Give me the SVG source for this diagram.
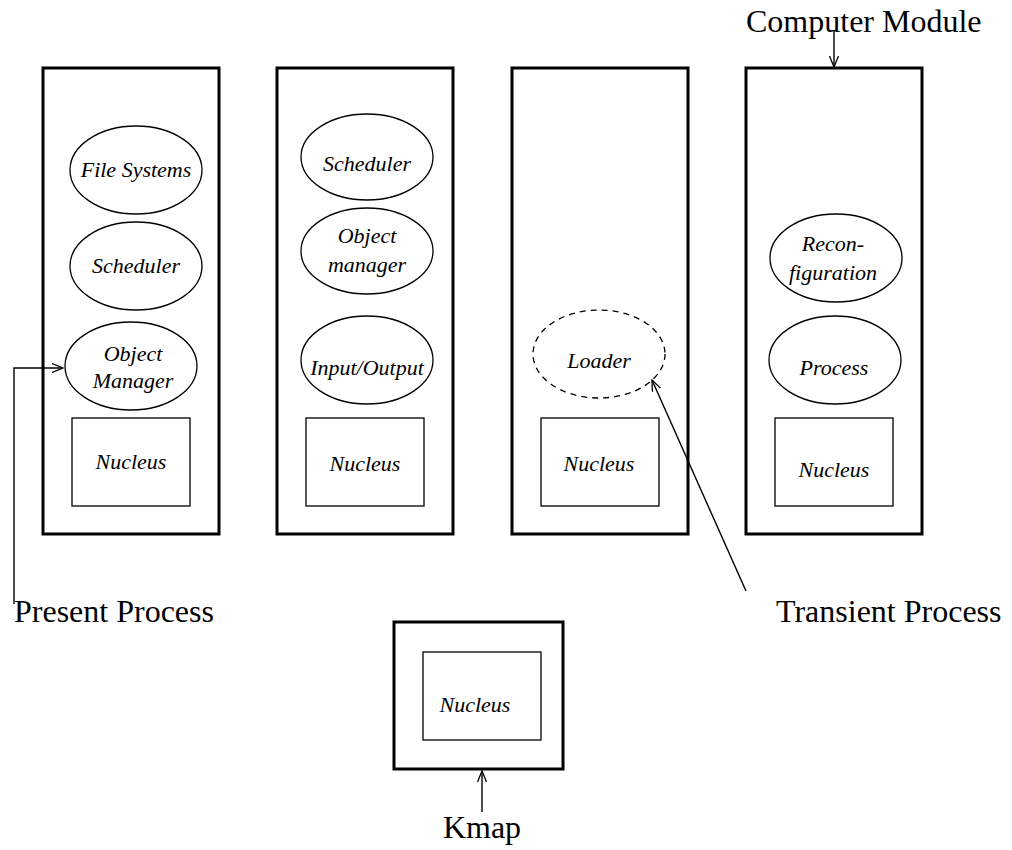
<svg xmlns="http://www.w3.org/2000/svg" width="1012" height="850" viewBox="0 0 1012 850">
  <style>
    .module { fill: none; stroke: #000; stroke-width: 3; }
    .proc { fill: none; stroke: #000; stroke-width: 1.3; }
    .transient { fill: none; stroke: #000; stroke-width: 1.3; stroke-dasharray: 6 5; }
    .nucleus { fill: none; stroke: #000; stroke-width: 1.3; }
    .lbl { font-family: "Liberation Serif", "Times New Roman", serif; font-style: italic; font-size: 22px; fill: #000; text-anchor: middle; }
    .cap { font-family: "Liberation Serif", "Times New Roman", serif; font-size: 32px; fill: #000; }
    .conn { fill: none; stroke: #000; stroke-width: 1.4; }
  </style>
  <defs>
    <marker id="open" viewBox="0 0 12 10" refX="11" refY="5" markerWidth="12" markerHeight="10" markerUnits="userSpaceOnUse" orient="auto">
      <path d="M0,0.5 L11,5 L0,9.5" fill="none" stroke="#000" stroke-width="1.3"/>
    </marker>
  </defs>
  <rect width="1012" height="850" fill="#fff"/>

  <!-- module 1 -->
  <g id="module1">
    <rect class="module" x="43" y="68" width="176" height="466"/>
    <ellipse class="proc" cx="136" cy="170" rx="66" ry="44"/>
    <text class="lbl" x="136" y="177">File Systems</text>
    <ellipse class="proc" cx="136" cy="266" rx="66" ry="44"/>
    <text class="lbl" x="136" y="273">Scheduler</text>
    <ellipse class="proc" cx="131" cy="366" rx="66" ry="44"/>
    <text class="lbl" x="133" y="361">Object</text>
    <text class="lbl" x="133" y="388">Manager</text>
    <rect class="nucleus" x="72" y="418" width="118" height="88"/>
    <text class="lbl" x="131" y="469">Nucleus</text>
  </g>

  <!-- module 2 -->
  <g id="module2">
    <rect class="module" x="277" y="68" width="176" height="466"/>
    <ellipse class="proc" cx="367" cy="157" rx="66" ry="43"/>
    <text class="lbl" x="367" y="171">Scheduler</text>
    <ellipse class="proc" cx="367" cy="251" rx="66" ry="43"/>
    <text class="lbl" x="367" y="243">Object</text>
    <text class="lbl" x="367" y="272">manager</text>
    <ellipse class="proc" cx="367" cy="360" rx="66" ry="44"/>
    <text class="lbl" x="367" y="375">Input/Output</text>
    <rect class="nucleus" x="306" y="418" width="118" height="88"/>
    <text class="lbl" x="365" y="471">Nucleus</text>
  </g>

  <!-- module 3 -->
  <g id="module3">
    <rect class="module" x="512" y="68" width="176" height="466"/>
    <ellipse class="transient" cx="599" cy="354" rx="66" ry="44"/>
    <text class="lbl" x="599" y="368">Loader</text>
    <rect class="nucleus" x="541" y="418" width="118" height="88"/>
    <text class="lbl" x="599" y="471">Nucleus</text>
  </g>

  <!-- module 4 -->
  <g id="module4">
    <rect class="module" x="746" y="68" width="176" height="466"/>
    <ellipse class="proc" cx="836" cy="258" rx="66" ry="44"/>
    <text class="lbl" x="833" y="251">Recon-</text>
    <text class="lbl" x="833" y="280">figuration</text>
    <ellipse class="proc" cx="835" cy="360" rx="66" ry="44"/>
    <text class="lbl" x="834" y="375">Process</text>
    <rect class="nucleus" x="775" y="418" width="118" height="88"/>
    <text class="lbl" x="834" y="477">Nucleus</text>
  </g>

  <!-- kmap -->
  <g id="kmap">
    <rect class="module" x="394" y="622" width="169" height="147"/>
    <rect class="nucleus" x="423" y="652" width="118" height="88"/>
    <text class="lbl" x="475" y="712">Nucleus</text>
  </g>

  <!-- captions -->
  <g id="captions">
    <text class="cap" x="746" y="32">Computer Module</text>
    <text class="cap" x="14" y="622">Present Process</text>
    <text class="cap" x="776" y="622">Transient Process</text>
    <text class="cap" x="482" y="838" text-anchor="middle">Kmap</text>
  </g>

  <!-- connectors -->
  <g id="connectors">
    <path class="conn" d="M834,30 L834,67" marker-end="url(#open)"/>
    <path class="conn" d="M14,604 L14,368 L63,368" marker-end="url(#open)"/>
    <path class="conn" d="M746,591 L652,380" marker-end="url(#open)"/>
    <path class="conn" d="M482,812 L482,771" marker-end="url(#open)"/>
  </g>
</svg>
